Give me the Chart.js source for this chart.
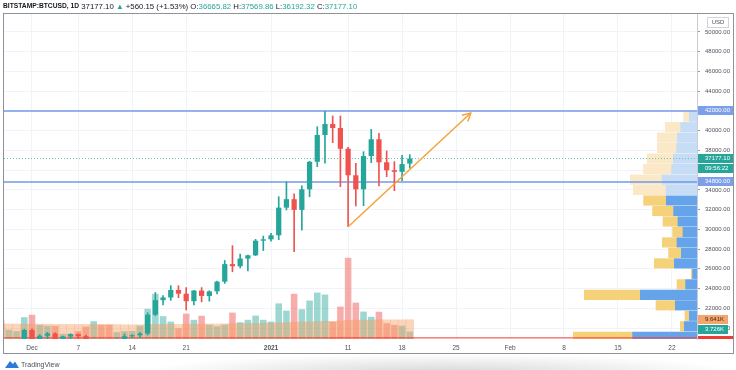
<!DOCTYPE html>
<html>
<head>
<meta charset="utf-8">
<script src="https://cdn.jsdelivr.net/npm/chart.js@4/dist/chart.umd.min.js"></script>
<style>
  html, body { margin: 0; padding: 0; background: #fff; }
  #wrap { position: relative; width: 736px; height: 370px; }
</style>
</head>
<body>
<div id="wrap"><canvas id="chart" width="736" height="370"></canvas></div>
<script>
// daily candles, BITSTAMP:BTCUSD
var dates = [
  '2020-11-27','2020-11-28','2020-11-29','2020-11-30',
  '2020-12-01','2020-12-02','2020-12-03','2020-12-04','2020-12-05','2020-12-06','2020-12-07','2020-12-08',
  '2020-12-09','2020-12-10','2020-12-11','2020-12-12','2020-12-13','2020-12-14','2020-12-15','2020-12-16',
  '2020-12-17','2020-12-18','2020-12-19','2020-12-20','2020-12-21','2020-12-22','2020-12-23','2020-12-24',
  '2020-12-25','2020-12-26','2020-12-27','2020-12-28','2020-12-29','2020-12-30','2020-12-31',
  '2021-01-01','2021-01-02','2021-01-03','2021-01-04','2021-01-05','2021-01-06','2021-01-07','2021-01-08',
  '2021-01-09','2021-01-10','2021-01-11','2021-01-12','2021-01-13','2021-01-14','2021-01-15','2021-01-16',
  '2021-01-17','2021-01-18','2021-01-19'
];
var opens = [
  17150, 17130, 17720, 18180,
  19800, 18780, 19220, 19450, 18670, 19150, 19370, 19180, 18330, 18550, 18250, 18030,
  18810, 19170, 19270, 19440, 21350, 22820, 23100, 23860, 23480, 22720, 23800, 23250,
  23720, 24700, 26480, 26260, 27040, 27370, 28850,
  28990, 29400, 32200, 33060, 31970, 34060, 36850, 39560, 40680, 40270, 38170, 35480,
  34060, 37430, 39130, 36800, 35990, 35830, 36665.82
];
var highs = [
  17450, 17870, 18350, 19880,
  19920, 19330, 19570, 19520, 19180, 19420, 19420, 19290, 18640, 18560, 18280, 18950,
  19400, 19330, 19570, 21550, 23600, 23280, 24300, 24290, 24100, 23830, 24100, 23780,
  24770, 26850, 28350, 27500, 27400, 28990, 29320,
  29600, 33310, 34830, 33600, 34400, 36900, 40400, 41950, 41490, 41490, 38300, 36690,
  37870, 40140, 39730, 37940, 36860, 37500, 37569.86
];
var lows = [
  16440, 16880, 17550, 18180,
  18200, 18350, 18930, 18580, 18510, 18870, 18910, 18200, 17650, 17920, 17580, 18020,
  18720, 19000, 19050, 19300, 21250, 22350, 22800, 23080, 21830, 22350, 22650, 22720,
  23450, 24520, 25700, 26100, 25800, 27340, 27850,
  28800, 28950, 31960, 27730, 29930, 33300, 36350, 36700, 38790, 34320, 30270, 32370,
  32400, 36760, 34390, 35340, 33920, 34930, 36192.32
];
var closes = [
  17130, 17720, 18180, 19800,
  18780, 19220, 19450, 18670, 19150, 19370, 19180, 18330, 18550, 18250, 18030, 18810,
  19170, 19270, 19440, 21350, 22820, 23100, 23860, 23480, 22720, 23800, 23250, 23720,
  24700, 26480, 26260, 27040, 27370, 28850, 28990,
  29400, 32200, 33060, 31970, 34060, 36850, 39560, 40680, 40270, 38170, 35480, 34060,
  37430, 39130, 36800, 35990, 35830, 36616.95, 37177.10
];
// volume in thousands of BTC
var volumes = [
  9.2, 4.6, 3.9, 10.9,
  12.1, 7.1, 6.6, 6.6, 2.6, 2.6, 3.9, 6.2, 8.9, 7.2, 7.2, 3.4,
  3.9, 4.0, 6.7, 15.1, 22.6, 11.4, 8.7, 5.4, 12.7, 9.6, 11.6, 7.2,
  6.4, 7.2, 13.2, 8.4, 9.6, 11.7, 9.6,
  8.7, 17.8, 14.2, 22.6, 14.9, 19.2, 23.2, 22.2, 8.7, 16.2, 40.6, 18.2,
  13.7, 11.1, 13.6, 7.9, 7.1, 6.6, 3.726
];
var volumeMA = [
  7.6, 7.5, 7.5, 7.4,
  7.4, 7.4, 7.4, 7.3, 7.3, 7.3, 7.3, 7.3, 7.3, 7.2, 7.2, 7.2,
  7.1, 7.1, 7.1, 7.2, 7.3, 7.3, 7.3, 7.3, 7.4, 7.4, 7.5, 7.5,
  7.5, 7.6, 7.6, 7.7, 7.7, 7.8, 7.9,
  8.0, 8.1, 8.2, 8.4, 8.5, 8.6, 8.7, 8.8, 8.8, 9.0, 9.3, 9.4,
  9.4, 9.4, 9.6, 9.6, 9.6, 9.6, 9.641
];

var tickDays = ['2020-12-01','2020-12-07','2020-12-14','2020-12-21','2021-01-01','2021-01-11',
                '2021-01-18','2021-01-25','2021-02-01','2021-02-08','2021-02-15','2021-02-22'];
var tickLabels = ['Dec','7','14','21','2021','11','18','25','Feb','8','15','22'];
var priceTicks = [20000,22000,24000,26000,28000,30000,32000,34000,36000,38000,40000,42000,44000,46000,48000,50000];

// visible range volume profile, rows from the top
var profileLevels = [41419, 40357, 39295, 38233, 37171, 36109, 35047, 33985, 32923, 31861, 30799,
                     29737, 28675, 27613, 26551, 25489, 24427, 23365, 22303, 21241, 20179, 19117];
var profileUp   = [7.7, 16.4, 19.7, 20.4, 23.7, 25.4, 35, 31, 30.7, 23.4, 19, 14, 20, 15.7, 22.7, 4.4, 11.4, 56.7, 21.7, 7.7, 12.7, 64.4];
var profileDown = [5.7, 15.3, 20, 19.3, 26, 28, 31.7, 32.7, 22.7, 21, 15, 10.4, 14.7, 12.7, 20, 1.3, 8.6, 56, 19.3, 4.3, 4, 59.3];
var valueAreaTop = 32923; // rows at or below this level are in the value area

var hLines = [42000, 34800];
var trendStart = ['2021-01-11', 30270];
var trendEnd = [56.9, 41790];
var bottomLine = 19000;

var DAY = 86400000;
function dayIndex(s) { return (Date.parse(s) - Date.parse('2020-12-01')) / DAY; }
var xs = dates.map(dayIndex);
var xMin = -3.63, xMax = 86.25;
var yMin = 18889, yMax = 51824;

var upColor = '#26a69a', downColor = '#ef5350';
var teal = '#26a69a';
var n = closes.length;
var isUp = closes.map(function(c, i) { return c >= opens[i]; });

var bodies = xs.map(function(x, i) { return {x: x, y: [Math.min(opens[i], closes[i]), Math.max(opens[i], closes[i])]}; });
var wicks = xs.map(function(x, i) { return {x: x, y: [lows[i], highs[i]]}; });
var vols = xs.map(function(x, i) { return {x: x, y: volumes[i]}; });
var volMa = xs.map(function(x, i) { return {x: x, y: volumeMA[i]}; });
var candleColors = isUp.map(function(u) { return u ? upColor : downColor; });
var volColors = isUp.map(function(u) { return u ? 'rgba(38,166,154,0.45)' : 'rgba(239,83,80,0.48)'; });

var profUpData = profileLevels.map(function(p, i) { return {y: p, x: [0, profileUp[i]]}; });
var profDownData = profileLevels.map(function(p, i) { return {y: p, x: [profileUp[i], profileUp[i] + profileDown[i]]}; });
var profUpColors = profileLevels.map(function(p) { return p <= valueAreaTop ? '#65a4ea' : '#c7ddf5'; });
var profDownColors = profileLevels.map(function(p) { return p <= valueAreaTop ? '#f5d27a' : '#fbe8c6'; });

function hline(v) { return [{x: xMin, y: v}, {x: xMax, y: v}]; }

var FONT = 'Liberation Sans';

var overlay = {
  id: 'overlay',
  beforeDraw: function(chart) {
    var ctx = chart.ctx;
    // soft page shadow under the frame
    ctx.save();
    var g = ctx.createRadialGradient(440, 372, 10, 440, 372, 300);
    g.addColorStop(0, 'rgba(120,120,120,0.28)');
    g.addColorStop(1, 'rgba(120,120,120,0)');
    ctx.fillStyle = g;
    ctx.setTransform(1, 0, 0, 0.06, 0, 372 * 0.94);
    ctx.fillRect(100, 0, 640, 372);
    ctx.restore();
    ctx.save();
    ctx.fillStyle = '#ffffff';
    ctx.fillRect(3, 13, 731, 341);
    ctx.restore();
  },
  afterDraw: function(chart) {
    var ctx = chart.ctx, y = chart.scales.y, vol = chart.scales.vol, x = chart.scales.x;
    ctx.save();

    // frame
    ctx.strokeStyle = '#8f929b';
    ctx.lineWidth = 1;
    ctx.strokeRect(3.5, 13.5, 730, 340);

    // trend arrow head
    var x0 = x.getPixelForValue(dayIndex(trendStart[0])), y0 = y.getPixelForValue(trendStart[1]);
    var x1 = x.getPixelForValue(trendEnd[0]), y1 = y.getPixelForValue(trendEnd[1]);
    var a = Math.atan2(y1 - y0, x1 - x0);
    ctx.strokeStyle = '#f5a33b';
    ctx.lineWidth = 1.5;
    ctx.beginPath();
    ctx.moveTo(x1 - 9 * Math.cos(a - 0.5), y1 - 9 * Math.sin(a - 0.5));
    ctx.lineTo(x1, y1);
    ctx.lineTo(x1 - 9 * Math.cos(a + 0.5), y1 - 9 * Math.sin(a + 0.5));
    ctx.stroke();

    // price axis labels
    function box(yc, text, bg, fg, w) {
      var top = Math.round(yc - 4.5);
      ctx.fillStyle = bg;
      ctx.fillRect(698, top, w || 35, 9);
      ctx.fillStyle = fg;
      ctx.font = '6px ' + FONT;
      ctx.textAlign = 'left';
      ctx.textBaseline = 'middle';
      ctx.fillText(text, 705, top + 4.8);
    }
    ctx.save();
    ctx.beginPath();
    ctx.rect(698, 14, 35, chart.chartArea.bottom - 14);
    ctx.clip();
    hLines.forEach(function(v) { box(y.getPixelForValue(v), v.toFixed(2), '#7d9fea', '#ffffff'); });
    var last = closes[n - 1];
    var py = y.getPixelForValue(last);
    box(py, last.toFixed(2), teal, '#ffffff');
    box(py + 9.5, '09:56:22', teal, '#ffffff');
    box(vol.getPixelForValue(volumeMA[n - 1]), volumeMA[n - 1].toFixed(3) + 'K', '#f4a56c', '#3a2a1a', 30);
    box(vol.getPixelForValue(volumes[n - 1]) - 2, volumes[n - 1].toFixed(3) + 'K', teal, '#ffffff', 30);
    box(y.getPixelForValue(bottomLine) + 3, '', '#ef3b36', '#ffffff');
    ctx.restore();

    // USD caption
    ctx.strokeStyle = '#d1d4dc';
    ctx.lineWidth = 1;
    ctx.strokeRect(707.5, 17.5, 21, 10);
    ctx.fillStyle = '#50535e';
    ctx.font = '6px ' + FONT;
    ctx.textAlign = 'center';
    ctx.textBaseline = 'middle';
    ctx.fillText('USD', 718, 22.8);

    // header line
    var change = last - closes[n - 2];
    var pct = change / closes[n - 2] * 100;
    var runs = [
      ['BITSTAMP:BTCUSD, 1D', '#131722', true],
      [' ' + last.toFixed(2) + ' ', '#131722'],
      ['\u25B2', teal],
      [' +' + change.toFixed(2) + ' (+' + pct.toFixed(2) + '%) ', '#131722'],
      ['O:', '#131722'], [opens[n - 1].toFixed(2), teal],
      [' H:', '#131722'], [highs[n - 1].toFixed(2), teal],
      [' L:', '#131722'], [lows[n - 1].toFixed(2), teal],
      [' C:', '#131722'], [last.toFixed(2), teal]
    ];
    var cx = 3;
    ctx.textAlign = 'left';
    ctx.textBaseline = 'middle';
    runs.forEach(function(r) {
      ctx.font = (r[2] ? 'bold 6.7px ' : '7.8px ') + FONT;
      ctx.fillStyle = r[1];
      ctx.fillText(r[0], cx, 6.5);
      cx += ctx.measureText(r[0]).width;
    });

    // TradingView mark
    ctx.fillStyle = '#2e7bd6';
    ctx.beginPath();
    ctx.moveTo(5, 368);
    ctx.lineTo(10, 361);
    ctx.lineTo(13, 364);
    ctx.lineTo(15, 361.5);
    ctx.lineTo(19, 368);
    ctx.closePath();
    ctx.fill();
    ctx.fillStyle = '#4a4e59';
    ctx.font = '7px ' + FONT;
    ctx.textAlign = 'left';
    ctx.fillText('TradingView', 21, 365);

    ctx.restore();
  }
};

var ctx = document.getElementById('chart');
var myChart = new Chart(ctx, {
  type: 'bar',
  data: {
    datasets: [
      { type: 'line', data: [{x: dayIndex(trendStart[0]), y: trendStart[1]}, {x: trendEnd[0], y: trendEnd[1]}],
        borderColor: '#f5a33b', borderWidth: 1.5, pointRadius: 0, xAxisID: 'x', yAxisID: 'y', order: 1 },
      { data: bodies, backgroundColor: candleColors, barPercentage: 0.68, categoryPercentage: 1,
        grouped: false, xAxisID: 'x', yAxisID: 'y', order: 2 },
      { data: wicks, backgroundColor: candleColors, barThickness: 1,
        grouped: false, xAxisID: 'x', yAxisID: 'y', order: 3 },
      { type: 'line', data: hline(hLines[0]), borderColor: '#7398ea', borderWidth: 1.6, pointRadius: 0, xAxisID: 'x', yAxisID: 'y', order: 4 },
      { type: 'line', data: hline(hLines[1]), borderColor: '#7398ea', borderWidth: 1.6, pointRadius: 0, xAxisID: 'x', yAxisID: 'y', order: 4 },
      { type: 'line', data: hline(closes[n - 1]), borderColor: '#6cc0b5', borderWidth: 1, borderDash: [1, 2], pointRadius: 0, xAxisID: 'x', yAxisID: 'y', order: 5 },
      { type: 'line', data: hline(bottomLine), borderColor: '#ef3b36', borderWidth: 1, pointRadius: 0, xAxisID: 'x', yAxisID: 'y', order: 4 },
      { data: volMa, backgroundColor: 'rgba(245,155,90,0.42)', barPercentage: 1, categoryPercentage: 1,
        grouped: false, xAxisID: 'x', yAxisID: 'vol', order: 7 },
      { data: vols, backgroundColor: volColors, barPercentage: 0.85, categoryPercentage: 1,
        grouped: false, xAxisID: 'x', yAxisID: 'vol', order: 8 },
      { indexAxis: 'y', data: profUpData, backgroundColor: profUpColors, barThickness: 9.5,
        grouped: false, xAxisID: 'xp', yAxisID: 'yp', order: 9 },
      { indexAxis: 'y', data: profDownData, backgroundColor: profDownColors, barThickness: 9.5,
        grouped: false, xAxisID: 'xp', yAxisID: 'yp', order: 9 }
    ]
  },
  options: {
    responsive: false,
    animation: false,
    devicePixelRatio: 1,
    events: [],
    layout: { padding: { left: 4, top: 14, right: 3, bottom: 18 } },
    plugins: { legend: { display: false }, tooltip: { enabled: false } },
    scales: {
      x: {
        type: 'linear', position: 'bottom', min: xMin, max: xMax, offset: false,
        grid: { color: '#f0f3fa', drawTicks: false, offset: false },
        border: { display: false },
        afterBuildTicks: function(scale) { scale.ticks = tickDays.map(function(d) { return {value: dayIndex(d)}; }); },
        afterFit: function(scale) { scale.height = 13; },
        ticks: {
          autoSkip: false, maxRotation: 0, padding: 5, color: '#50535e',
          font: function(c) { return {family: FONT, size: 6.5, weight: c.index === 4 ? 'bold' : 'normal'}; },
          callback: function(v, i) { return tickLabels[i]; }
        }
      },
      y: {
        type: 'linear', position: 'right', min: yMin, max: yMax,
        grid: { color: '#f0f3fa', tickLength: 3, tickColor: '#9598a1' },
        border: { display: true, color: '#c9ccd4' },
        afterBuildTicks: function(scale) { scale.ticks = priceTicks.map(function(v) { return {value: v}; }); },
        afterFit: function(scale) { scale.width = 36; },
        ticks: { padding: 5, color: '#50535e', font: {family: FONT, size: 6},
                 callback: function(v) { return v.toFixed(2); } }
      },
      vol: { type: 'linear', axis: 'y', position: 'left', display: false, min: 0, max: 162.5 },
      yp: { type: 'linear', axis: 'y', position: 'left', display: false, min: yMin, max: yMax, offset: false },
      xp: { type: 'linear', axis: 'x', position: 'top', display: false, min: 0, max: 693, reverse: true,
            offset: false, grid: { offset: false } }
    }
  },
  plugins: [overlay]
});
</script>
</body>
</html>
